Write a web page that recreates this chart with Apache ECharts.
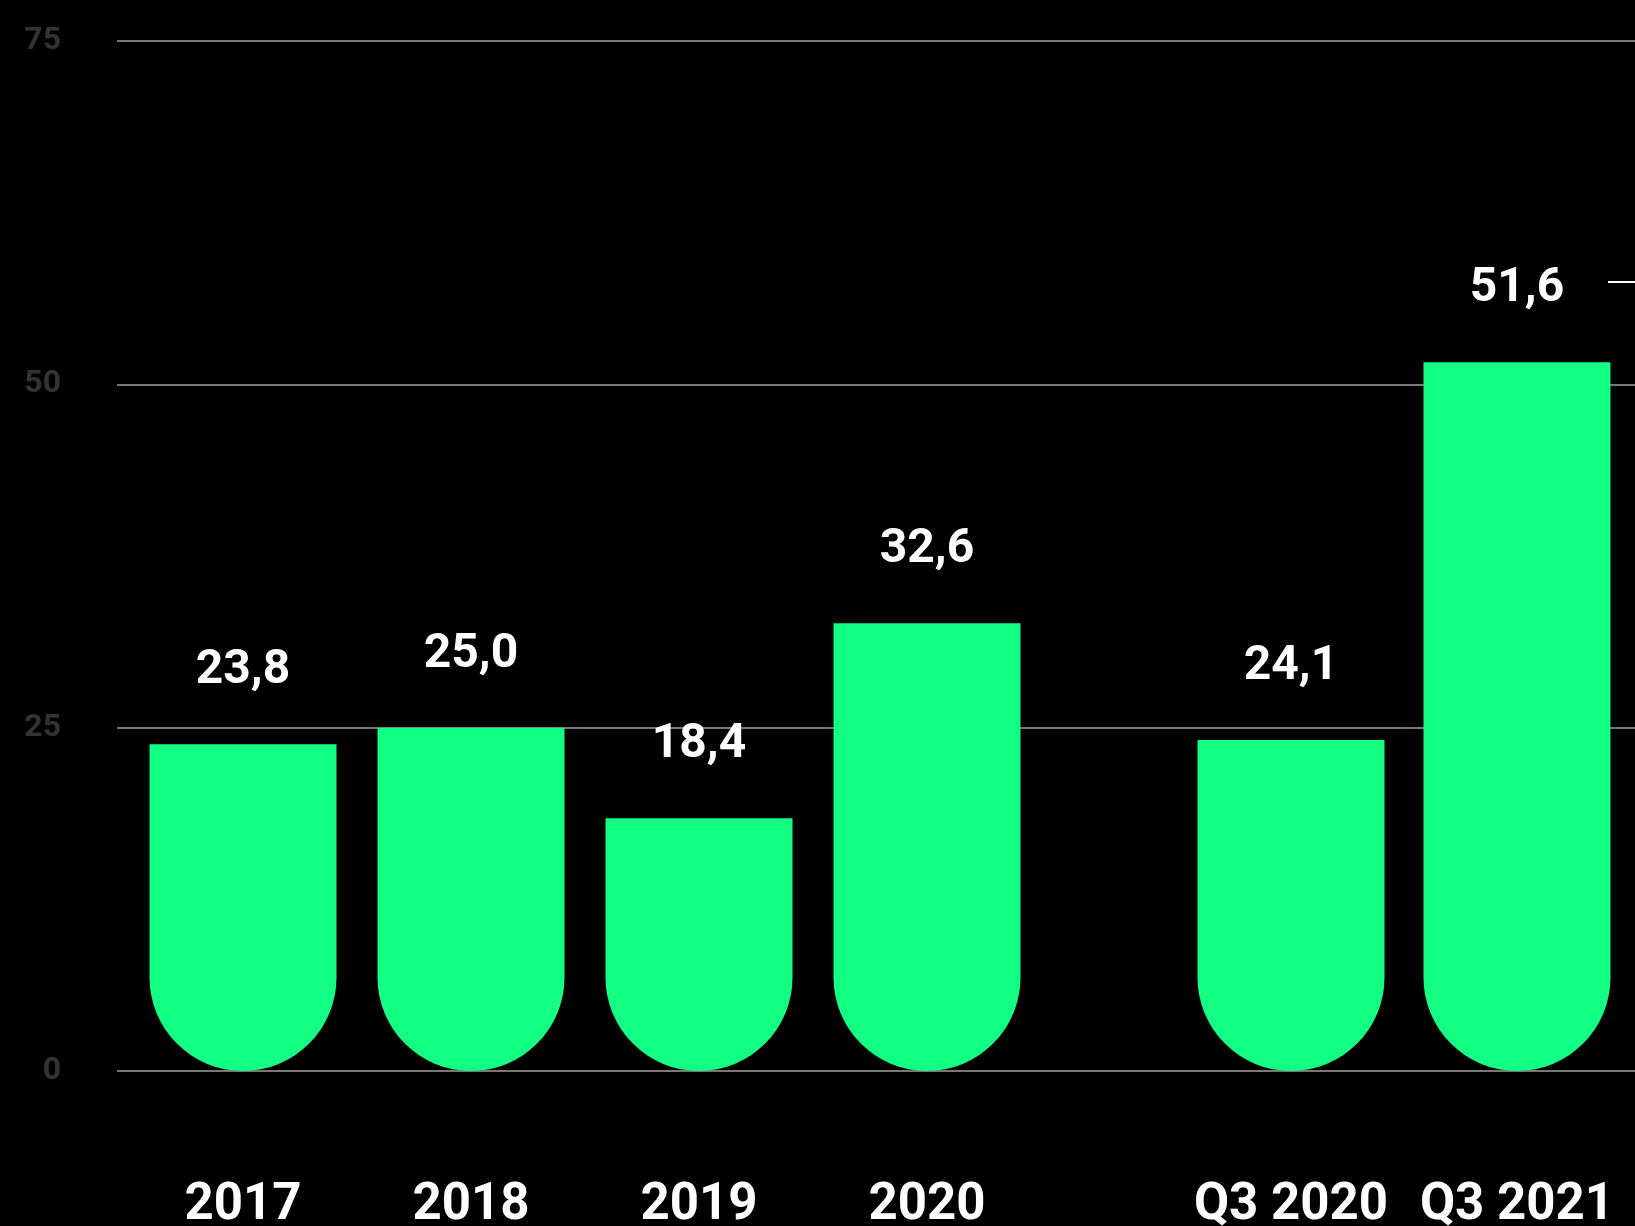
<!DOCTYPE html>
<html>
<head>
<meta charset="utf-8">
<script src="https://cdn.jsdelivr.net/npm/echarts@6/dist/echarts.min.js"></script>
<style>
  html, body { margin: 0; padding: 0; background: #000; }
  #chart { width: 1635px; height: 1226px; }
</style>
</head>
<body>
<div id="chart"></div>
<script>
// data
const yearCats = ['2017', '2018', '2019', '2020']
const yearValues = [23.8, 25.0, 18.4, 32.6]
const quarterCats = ['Q3 2020', 'Q3 2021']
const quarterValues = [24.1, 51.6]
const yTicks = [0, 25, 50, 75]

const FONT = 'Roboto, sans-serif'
const GREEN = '#12ff84'
const TOP = 41
const BOTTOM = 155

const myChart = echarts.init(document.getElementById('chart'))

const fmt = (p) => p.value.toFixed(1).replace('.', ',')

const barSeries = (idx, values) => ({
  type: 'bar',
  xAxisIndex: idx,
  yAxisIndex: idx,
  data: values,
  barWidth: 187,
  itemStyle: {
    color: GREEN,
    borderRadius: [0, 0, 94, 94]
  },
  label: {
    show: true,
    position: 'top',
    distance: 49,
    color: '#fff',
    fontFamily: FONT,
    fontWeight: 'bold',
    fontSize: 48,
    formatter: fmt
  }
})

const catAxis = (idx, cats) => ({
  type: 'category',
  gridIndex: idx,
  data: cats,
  axisLine: { show: false },
  axisTick: { show: false },
  axisLabel: {
    interval: 0,
    color: '#fff',
    fontFamily: FONT,
    fontWeight: 'bold',
    fontSize: 51,
    margin: 110
  }
})

const hiddenY = (idx) => ({
  type: 'value',
  gridIndex: idx,
  min: 0,
  max: 75,
  show: false
})

// labels hang off the bottom edge, so the grids must not shrink to fit them
const gridBox = (pos) => Object.assign({ top: TOP, bottom: BOTTOM, containLabel: false, outerBoundsMode: 'none' }, pos)

const option = {
  backgroundColor: '#000',
  animation: false,
  grid: [
    gridBox({ left: 117, right: 0 }),
    gridBox({ left: 129, width: 912 }),
    gridBox({ left: 1178, width: 452 })
  ],
  xAxis: [
    { type: 'value', gridIndex: 0, min: 0, max: 1, show: false },
    catAxis(1, yearCats),
    catAxis(2, quarterCats)
  ],
  yAxis: [
    {
      type: 'value',
      gridIndex: 0,
      min: yTicks[0],
      max: yTicks[yTicks.length - 1],
      interval: 25,
      axisLine: { show: false },
      axisTick: { show: false },
      axisLabel: {
        color: '#333',
        fontFamily: FONT,
        fontWeight: 'bold',
        fontSize: 32,
        margin: 56
      },
      splitLine: { lineStyle: { color: '#777', width: 2 } }
    },
    hiddenY(1),
    hiddenY(2)
  ],
  series: [
    barSeries(1, yearValues),
    barSeries(2, quarterValues)
  ],
  graphic: [
    {
      type: 'line',
      shape: { x1: 1608, y1: 282, x2: 1635, y2: 282 },
      style: { stroke: '#fff', lineWidth: 2 }
    }
  ]
}

myChart.setOption(option)
</script>
</body>
</html>
